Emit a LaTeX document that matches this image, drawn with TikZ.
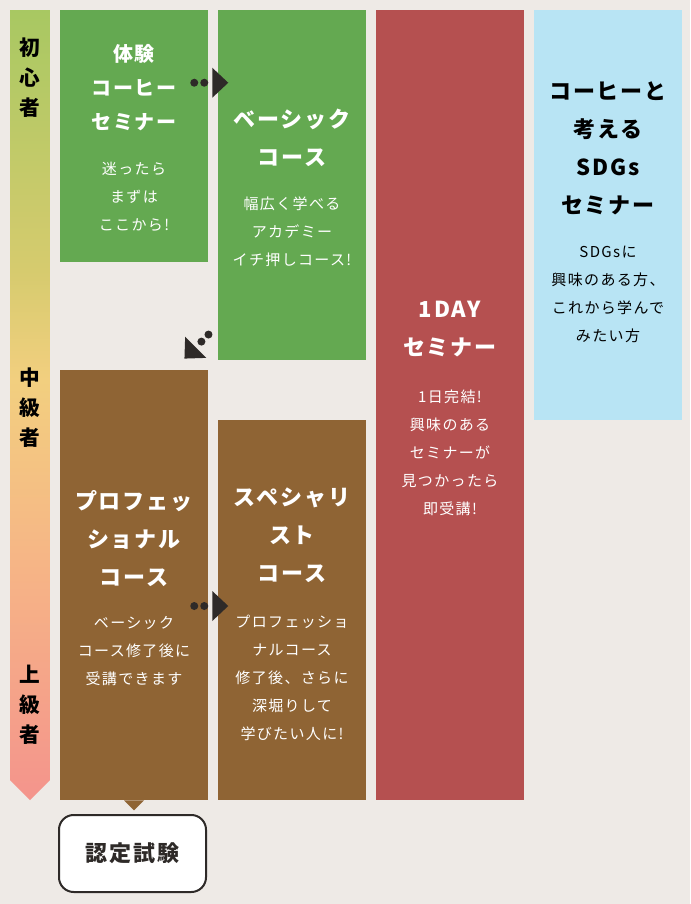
\documentclass[tikz,border=0pt]{standalone}
\usepackage{fontspec}
\setmainfont{Noto Sans CJK JP}
\newfontfamily\jpspaced[LetterSpace=9]{Noto Sans CJK JP}
\usetikzlibrary{
    calc,
    shapes,
    positioning
}

\definecolor{bgc}{HTML}{EEEAE6}
\definecolor{greenc}{HTML}{64A951}
\definecolor{brownc}{HTML}{8F6434}
\definecolor{redc}{HTML}{B55050}
\definecolor{bluec}{HTML}{B8E4F4}
\definecolor{darkc}{HTML}{2E2A28}
\definecolor{lvgreen}{HTML}{A8C862}
\definecolor{lvlime}{HTML}{D6CB6E}
\definecolor{lvyellow}{HTML}{F2CF7F}
\definecolor{lvorange}{HTML}{F6B586}
\definecolor{lvpink}{HTML}{F4948C}

\pgfdeclareverticalshading{levelbar}{100bp}{color(0bp)=(lvpink); color(25bp)=(lvpink); color(40bp)=(lvorange); color(51.6bp)=(lvyellow); color(58.5bp)=(lvlime); color(75bp)=(lvgreen); color(100bp)=(lvgreen)}

\newcommand{\ttl}{\jpspaced\fontsize{16.5}{28.5}\selectfont\bfseries}
\newcommand{\smallttl}{\jpspaced\fontsize{15}{25.5}\selectfont\bfseries}
\newcommand{\subtxt}{\jpspaced\fontsize{11.25}{21}\selectfont}
\newcommand{\lvl}{\fontsize{15.5}{22.5}\selectfont\bfseries}

\tikzset{
    pics/nextstep/.style={code={
        \fill[darkc] (-18,0) circle (3pt) (-8,0) circle (3pt);
        \fill[darkc] (0,-15) -- (16,0) -- (0,15) -- cycle;
    }}
}

\begin{document}
\begin{tikzpicture}[x=0.75pt, y=-0.75pt,
    course/.style={inner sep=0pt, minimum width=111pt, minimum height={#1*0.75pt}},
    title/.style={align=center, text=white, font=\ttl, inner sep=0pt},
    sub/.style={align=center, text=white, font=\subtxt, inner sep=0pt},
    level/.style={align=center, text=black, font=\lvl, inner sep=0pt},
    exam/.style={draw=darkc, line width=1.5pt, fill=white, rounded corners=11pt,
        minimum width=110.25pt, minimum height=57.75pt, text=darkc, font=\ttl}]
    \fill[bgc] (0,0) rectangle (690,904);
    \useasboundingbox (0,0) rectangle (690,904);

    % level bar
    \shade[shading=levelbar] (10,10) -- (50,10) -- (50,780) -- (30,800) -- (10,780) -- cycle;
    \node[level] (beginner) at (30,78) {初\\心\\者};
    \node[level] (middle) at (30,408) {中\\級\\者};
    \node[level] (advanced) at (30,705) {上\\級\\者};

    % courses
    \node[course=252, fill=greenc] (taiken) at (134,136) {};
    \node[title, font=\smallttl] (taiken-title) at ($(taiken.center)+(0,-48)$) {体験\\コーヒー\\セミナー};
    \node[sub] (taiken-sub) at ($(taiken.center)+(0,61)$) {迷ったら\\まずは\\ここから!};

    \node[course=350, fill=greenc] (basic) at (292,185) {};
    \node[title] (basic-title) at ($(basic.center)+(0,-47.5)$) {ベーシック\\コース};
    \node[sub] (basic-sub) at ($(basic.center)+(0,47)$) {幅広く学べる\\アカデミー\\イチ押しコース!};

    \node[course=790, fill=redc] (oneday) at (450,405) {};
    \node[title] (oneday-title) at ($(oneday.center)+(0,-75.5)$) {1DAY\\セミナー};
    \node[sub] (oneday-sub) at ($(oneday.center)+(0,47.5)$) {1日完結!\\興味のある\\セミナーが\\見つかったら\\即受講!};

    \node[course=410, fill=bluec] (sdgs) at (608,215) {};
    \node[title, text=black] (sdgs-title) at ($(sdgs.center)+(0,-67)$) {コーヒーと\\考える\\SDGs\\セミナー};
    \node[sub, text=black] (sdgs-sub) at ($(sdgs.center)+(0,79.5)$) {SDGsに\\興味のある方、\\これから学んで\\みたい方};

    \node[course=430, fill=brownc] (pro) at (134,585) {};
    \node[title] (pro-title) at ($(pro.center)+(0,-46)$) {プロフェッ\\ショナル\\コース};
    \node[sub] (pro-sub) at ($(pro.center)+(0,66)$) {ベーシック\\コース修了後に\\受講できます};

    \node[course=380, fill=brownc] (spec) at (292,610) {};
    \node[title] (spec-title) at ($(spec.center)+(0,-75)$) {スペシャリ\\スト\\コース};
    \node[sub] (spec-sub) at ($(spec.center)+(0,68)$) {プロフェッショ\\ナルコース\\修了後、さらに\\深堀りして\\学びたい人に!};

    % exam
    \fill[brownc] ($(pro.south)+(-10,0)$) -- ($(pro.south)+(10,0)$) -- ($(pro.south)+(0,10)$) -- cycle;
    \node[exam] (exam) at (132.5,853.5) {認定試験};

    % arrows
    \pic at ($(taiken.north east)+(4,73)$) {nextstep};
    \pic[rotate=225] at ($(taiken.south east)+(-12.5,85)$) {nextstep};
    \pic at ($(pro.east)+(4,21)$) {nextstep};
\end{tikzpicture}
\end{document}
